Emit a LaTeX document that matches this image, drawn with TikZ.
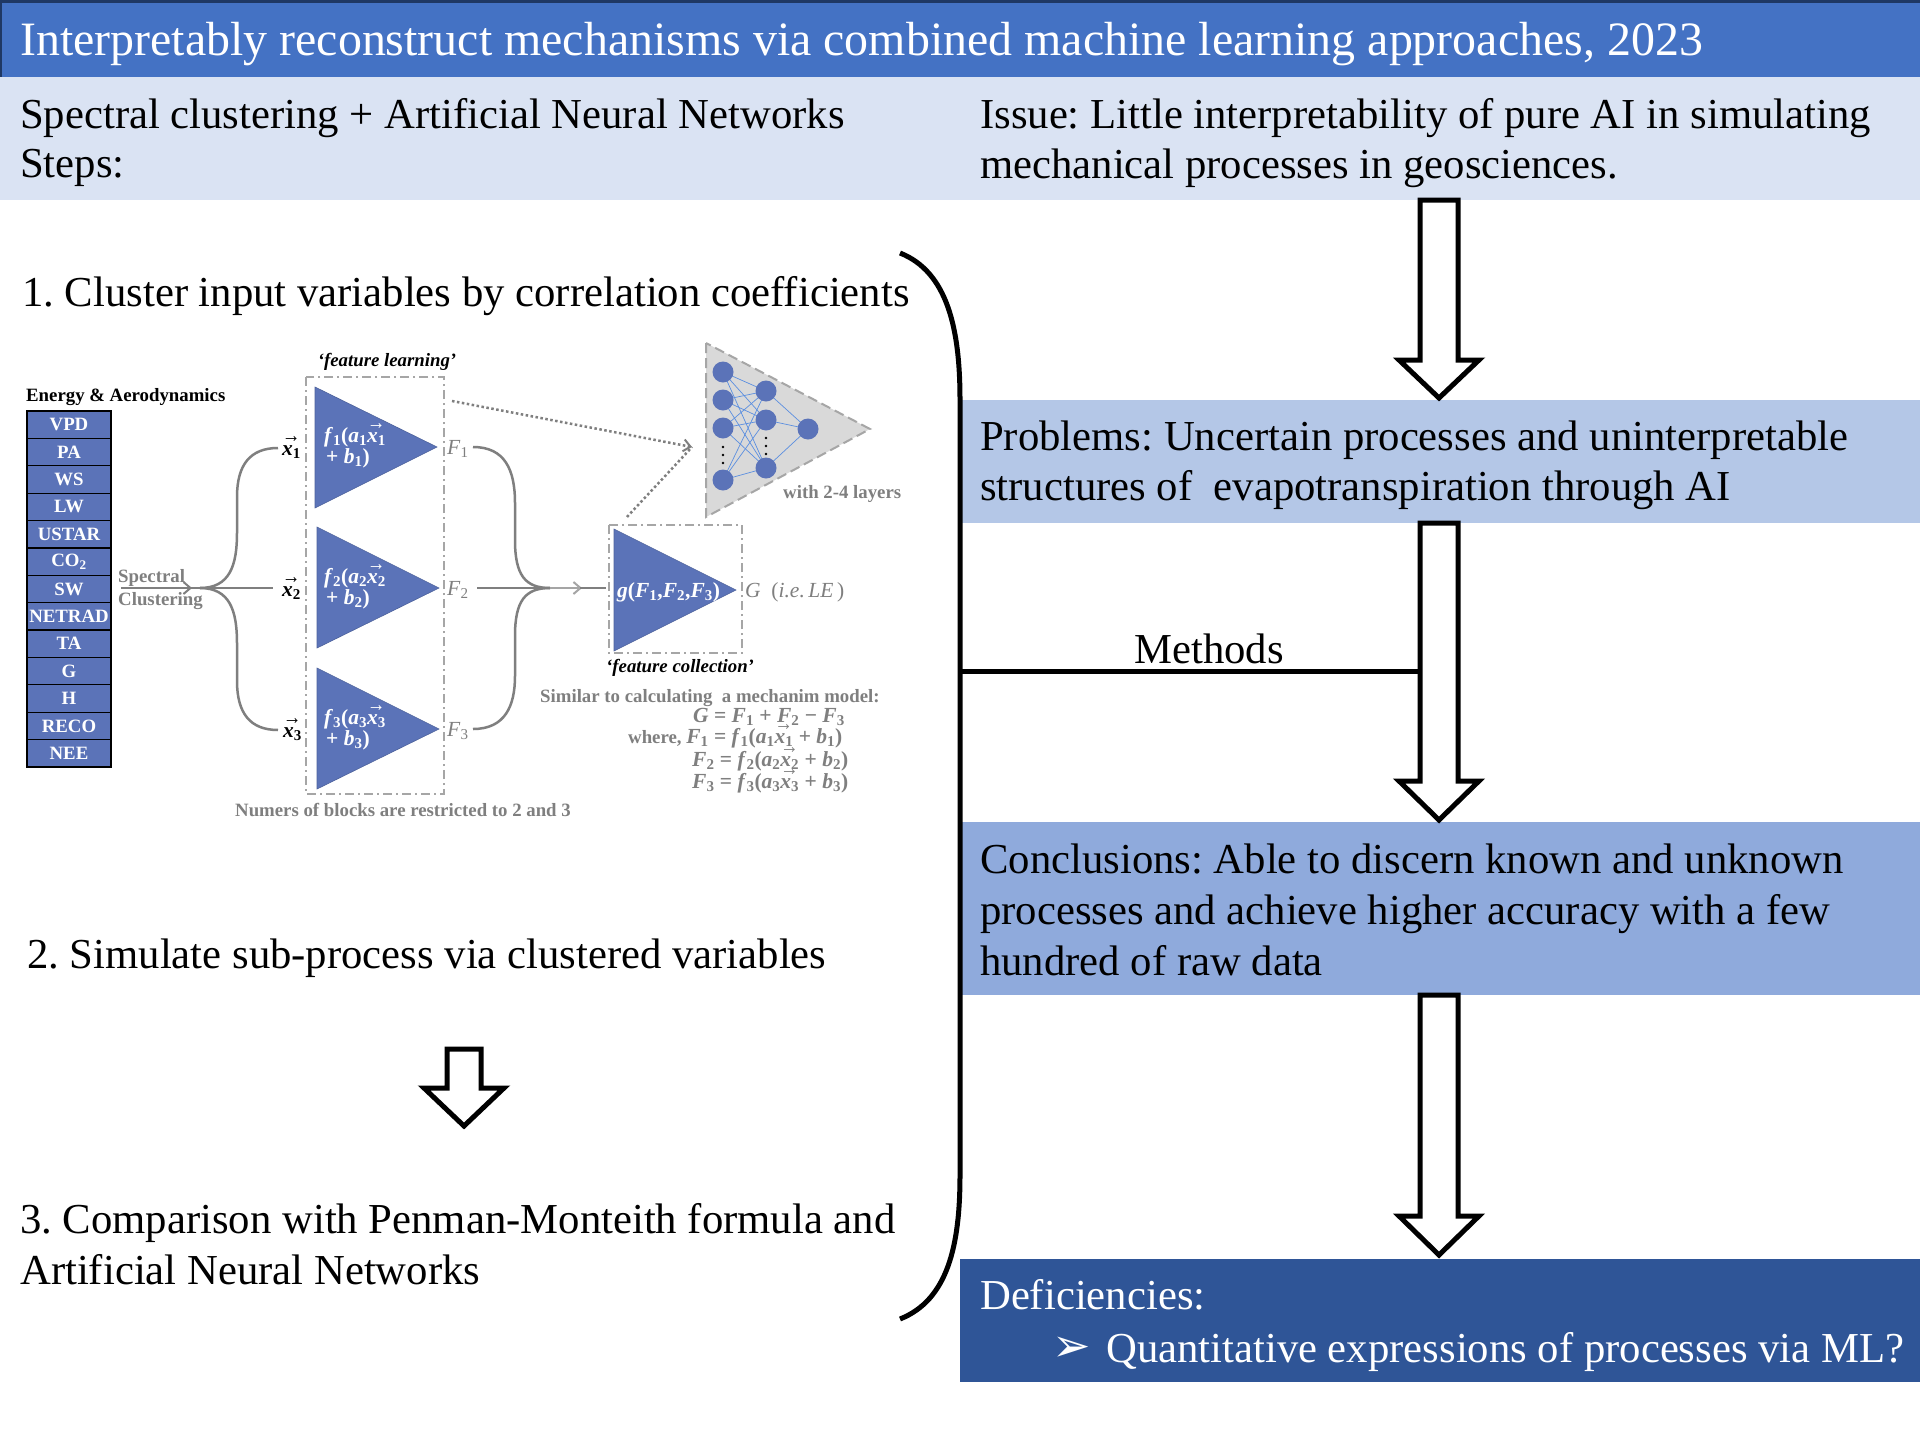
\documentclass[tikz,border=0pt]{standalone}
\usepackage{fontspec}
\setmainfont{Liberation Serif}
\newfontfamily\dejavu{DejaVu Sans}
\usepackage{graphicx}
\usetikzlibrary{arrows.meta}
\frenchspacing
\definecolor{titleblue}{HTML}{4472C4}
\definecolor{titleedge}{HTML}{1F3864}
\definecolor{bandblue}{HTML}{DAE3F3}
\definecolor{probblue}{HTML}{B4C7E7}
\definecolor{concblue}{HTML}{8FAADC}
\definecolor{defblue}{HTML}{2F5597}
\definecolor{figblue}{HTML}{5B73B8}
\definecolor{figgray}{HTML}{7F7F7F}
\definecolor{boxgray}{HTML}{A6A6A6}
\definecolor{nngray}{HTML}{D9D9D9}
\definecolor{linkblue}{HTML}{5B8FE0}
\newcommand{\bodyfont}{\fontsize{42.7}{51}\selectfont}
\newcommand{\titlefont}{\fontsize{47.9}{56}\selectfont}
\newcommand{\figfont}{\fontsize{18.8}{22}\selectfont}
\newcommand{\figmath}{\fontsize{21.5}{24}\selectfont}
\newcommand{\mysb}[1]{\textsubscript{#1}}
\newcommand{\ovx}[1]{\leavevmode\rlap{\smash{\raisebox{0.58em}{\resizebox{0.85em}{0.28em}{→}}}}\textit{x}\mysb{#1}}
\newcommand{\myharrow}[6]{\draw[hollow] ({#1-#5},#2) -- ({#1+#5},#2) -- ({#1+#5},#3) -- ({#1+#6},#3) -- (#1,#4) -- ({#1-#6},#3) -- ({#1-#5},#3) -- cycle;}
\begin{document}
\begin{tikzpicture}[x=1pt,y=-1pt,
  body/.style={inner sep=0pt, anchor=base west, font=\bodyfont},
  fig/.style={inner sep=0pt, font=\figfont\bfseries, text=figgray},
  tight/.style={text height=13pt, text depth=3pt},
  cell/.style={draw=black, line width=1.2pt, fill=figblue, text=white, font=\figfont\bfseries, minimum width=84pt, minimum height=27.38pt, inner sep=0pt},
  hollow/.style={draw=black, line width=5pt, fill=white, miter limit=10},
  grayline/.style={draw=figgray, line width=2.5pt},
  dashdotbox/.style={draw=boxgray, line width=2pt, dash pattern=on 9pt off 4pt on 2pt off 4pt},
  nn/.style={circle, fill=figblue, minimum size=21pt, inner sep=0pt},
  link/.style={draw=linkblue, line width=0.7pt},
  tri/.style={fill=figblue, draw=figblue!85!black, line width=0.6pt},
  barb/.style={-{Straight Barb[length=7pt,width=12pt,line width=2pt]}}
]
\useasboundingbox (0,0) rectangle (1920,1440);
\fill[white] (0,0) rectangle (1920,1440);
% ---------- header ----------
\fill[titleblue] (0,0) rectangle (1920,77);
\draw[titleedge, line width=3pt] (0,1.5) -- (1920,1.5);
\draw[titleedge, line width=2pt] (1,0) -- (1,77);
\fill[bandblue] (0,77) rectangle (1920,200);
\node[body, font=\titlefont, text=white] (title) at (20,55) {Interpretably reconstruct mechanisms via combined machine learning approaches, 2023};
\node[body] (sc1) at (20,128) {Spectral clustering + Artificial Neural Networks};
\node[body] (sc2) at (20,177) {Steps:};
\node[body] (is1) at (980,128) {Issue: Little interpretability of pure AI in simulating};
\node[body] (is2) at (980,178) {mechanical processes in geosciences.};
% ---------- right boxes ----------
\fill[probblue] (962,400) rectangle (1920,523);
\fill[concblue] (962,822) rectangle (1920,995);
\fill[defblue] (960,1259) rectangle (1920,1382);
\node[body] (pr1) at (980,450) {Problems: Uncertain processes and uninterpretable};
\node[body] (pr2) at (980,500) {structures of~ evapotranspiration through AI};
\node[body] (co1) at (980,873) {Conclusions: Able to discern known and unknown};
\node[body] (co2) at (980,924) {processes and achieve higher accuracy with a few};
\node[body] (co3) at (980,975) {hundred of raw data};
\node[body, text=white] (de1) at (980,1309) {Deficiencies:};
\node[inner sep=0pt, anchor=base west, text=white, font=\dejavu\fontsize{46}{50}\selectfont] (bul) at (1052,1361) {➢};
\node[body, text=white] (de2) at (1106,1362) {Quantitative expressions of processes via ML?};
% ---------- bracket and methods ----------
\draw[line width=5pt] (900,253) .. controls (948,272) and (960,330) .. (960,400) -- (960,1175) .. controls (960,1245) and (948,1300) .. (900,1319);
\draw[line width=5pt] (960,671) -- (1420,671);
\node[inner sep=0pt, anchor=base, font=\bodyfont] (meth) at (1209,663) {Methods};
% ---------- hollow arrows ----------
\myharrow{1439}{200}{360}{398}{19}{40}
\myharrow{1439}{523}{781}{820}{19}{40}
\myharrow{1439}{995}{1216}{1255}{19}{40}
\myharrow{464}{1049}{1088}{1126}{17}{40}
% ---------- left steps ----------
\node[body] (st1) at (22,306) {1. Cluster input variables by correlation coefficients};
\node[body] (st2) at (27,968) {2. Simulate sub-process via clustered variables};
\node[body] (st3a) at (20,1233) {3. Comparison with Penman-Monteith formula and};
\node[body] (st3b) at (20,1284) {Artificial Neural Networks};
% ---------- embedded figure ----------
\node[inner sep=0pt, anchor=west, font=\figfont\bfseries] (ea) at (26,397) {Energy \& Aerodynamics};
\foreach \lab [count=\i] in {VPD,PA,WS,LW,USTAR,{CO\textsubscript{2}},SW,NETRAD,TA,G,H,RECO,NEE}{
  \node[cell] (v\i) at (69,{411+(\i-0.5)*27.38}) {\lab};
}
\node[fig, tight, anchor=base west] (spec) at (118,582) {Spectral};
\node[fig, tight, anchor=base west] (clus) at (118,605) {Clustering};
\coordinate (j1) at (200,588);
\coordinate (x1in) at (278,448);
\coordinate (x2in) at (273,588);
\coordinate (x3in) at (278,730);
\draw[grayline, barb] (121,588) -- (192,588);
\draw[grayline] (190,588) -- (j1);
\draw[grayline] (j1) .. controls (230,588) and (237,565) .. (237,533) -- (237,497) .. controls (237,465) and (250,448) .. (x1in);
\draw[grayline] (j1) -- (x2in);
\draw[grayline] (j1) .. controls (230,588) and (237,611) .. (237,643) -- (237,681) .. controls (237,713) and (250,730) .. (x3in);
\node[inner sep=0pt, tight, anchor=base west, font=\figmath\bfseries] (x1) at (282,455) {\ovx{1}};
\node[inner sep=0pt, tight, anchor=base west, font=\figmath\bfseries] (x2) at (282,596) {\ovx{2}};
\node[inner sep=0pt, tight, anchor=base west, font=\figmath\bfseries] (x3) at (283,737) {\ovx{3}};
% feature learning
\draw[dashdotbox] (306,377) rectangle (444,794);
\node[inner sep=0pt, font=\figfont\bfseries\itshape] (fl) at (387,362) {‘feature learning’};
\fill[tri] (315,387) -- (315,508) -- (437,447) -- cycle;
\fill[tri] (317,527) -- (317,648) -- (439,588) -- cycle;
\fill[tri] (317,668) -- (317,789) -- (439,729) -- cycle;
\foreach \k/\y in {1/442,2/583,3/724}{
  \node[inner sep=0pt, tight, anchor=base west, text=white, font=\figmath\bfseries] (fa\k) at (324,\y) {\textit{f}\mysb{\k}(\textit{a}\mysb{\k}\ovx{\k}};
  \node[inner sep=0pt, tight, anchor=base west, text=white, font=\figmath\bfseries] (fb\k) at (326,\y+21) {+ \textit{b}\mysb{\k})};
}
\node[inner sep=0pt, tight, anchor=base west, text=figgray, font=\figmath] (F1) at (447,454) {\textit{F}\mysb{1}};
\node[inner sep=0pt, tight, anchor=base west, text=figgray, font=\figmath] (F2) at (447,595) {\textit{F}\mysb{2}};
\node[inner sep=0pt, tight, anchor=base west, text=figgray, font=\figmath] (F3) at (447,736) {\textit{F}\mysb{3}};
\coordinate (j2) at (550,588);
\draw[grayline] (473,447) .. controls (505,447) and (515,470) .. (515,503) -- (515,540) .. controls (515,575) and (525,588) .. (j2);
\draw[grayline] (473,729) .. controls (505,729) and (515,706) .. (515,676) -- (515,636) .. controls (515,601) and (525,588) .. (j2);
\draw[grayline] (477,588) -- (j2);
\draw[draw=figgray!70, line width=2.5pt, barb] (j2) -- (582,588);
\draw[grayline] (580,588) -- (606,588);
% neural net
\fill[nngray] (706,343) -- (706,517) -- (870,429) -- cycle;
\draw[boxgray, line width=2pt, dash pattern=on 10pt off 5pt] (706,343) -- (706,517) -- (870,429) -- cycle;
\foreach \i/\y in {1/372,2/400,3/428,4/480}{ \coordinate (in\i) at (723,\y); }
\foreach \i/\y in {1/391,2/420,3/468}{ \coordinate (hd\i) at (766,\y); }
\coordinate (out) at (808,429);
\foreach \i in {1,...,4}{ \foreach \j in {1,2,3}{ \draw[link] (in\i) -- (hd\j); } }
\foreach \j in {1,2,3}{ \draw[link] (hd\j) -- (out); }
\foreach \i in {1,...,4}{ \node[nn] (nin\i) at (in\i) {}; }
\foreach \j in {1,2,3}{ \node[nn] (nhd\j) at (hd\j) {}; }
\node[nn] (nout) at (out) {};
\foreach \y in {447,455,463}{ \fill[black] (723,\y) circle (1.3pt); }
\foreach \y in {438,446,454}{ \fill[black] (766,\y) circle (1.3pt); }
\node[fig, anchor=west] (layers) at (783,494) {with 2-4 layers};
% dotted arrows
\coordinate (nnin) at (692,447);
\draw[figgray, line width=2.5pt, dash pattern=on 2.5pt off 2.5pt, barb] (452,401) -- (nnin);
\draw[figgray, line width=2.5pt, dash pattern=on 2.5pt off 2.5pt] (627,517) -- (nnin);
% feature collection
\draw[dashdotbox] (609,525) rectangle (742,653);
\fill[tri] (614,529) -- (614,651) -- (736,590) -- cycle;
\node[inner sep=0pt, tight, anchor=base west, text=white, font=\figmath\bfseries] (gfun) at (617,597) {\textit{g}(\textit{F}\mysb{1},\textit{F}\mysb{2},\textit{F}\mysb{3})};
\node[inner sep=0pt, tight, anchor=base west, text=figgray, font=\figmath] (Glab) at (745,597) {\textit{G}\enspace(\textit{i.e.\,LE}\,)};
\node[inner sep=0pt, anchor=west, font=\figfont\bfseries\itshape] (fc) at (606,668) {‘feature collection’};
\node[fig, tight, anchor=base west] (sim) at (540,702) {Similar to calculating~ a mechanim model:};
\node[fig, tight, anchor=base west, font=\figmath\bfseries] (eq0) at (693,722) {\textit{G} = \textit{F}\mysb{1} + \textit{F}\mysb{2} − \textit{F}\mysb{3}};
\node[fig, tight, anchor=base west] (eq1) at (628,743) {where, {\figmath\textit{F}\mysb{1} = \textit{f}\mysb{1}(\textit{a}\mysb{1}\ovx{1} + \textit{b}\mysb{1})}};
\node[fig, tight, anchor=base west, font=\figmath\bfseries] (eq2) at (692,766) {\textit{F}\mysb{2} = \textit{f}\mysb{2}(\textit{a}\mysb{2}\ovx{2} + \textit{b}\mysb{2})};
\node[fig, tight, anchor=base west, font=\figmath\bfseries] (eq3) at (692,788) {\textit{F}\mysb{3} = \textit{f}\mysb{3}(\textit{a}\mysb{3}\ovx{3} + \textit{b}\mysb{3})};
\node[fig, anchor=base west] (numb) at (235,816) {Numers of blocks are restricted to 2 and 3};
\end{tikzpicture}
\end{document}
